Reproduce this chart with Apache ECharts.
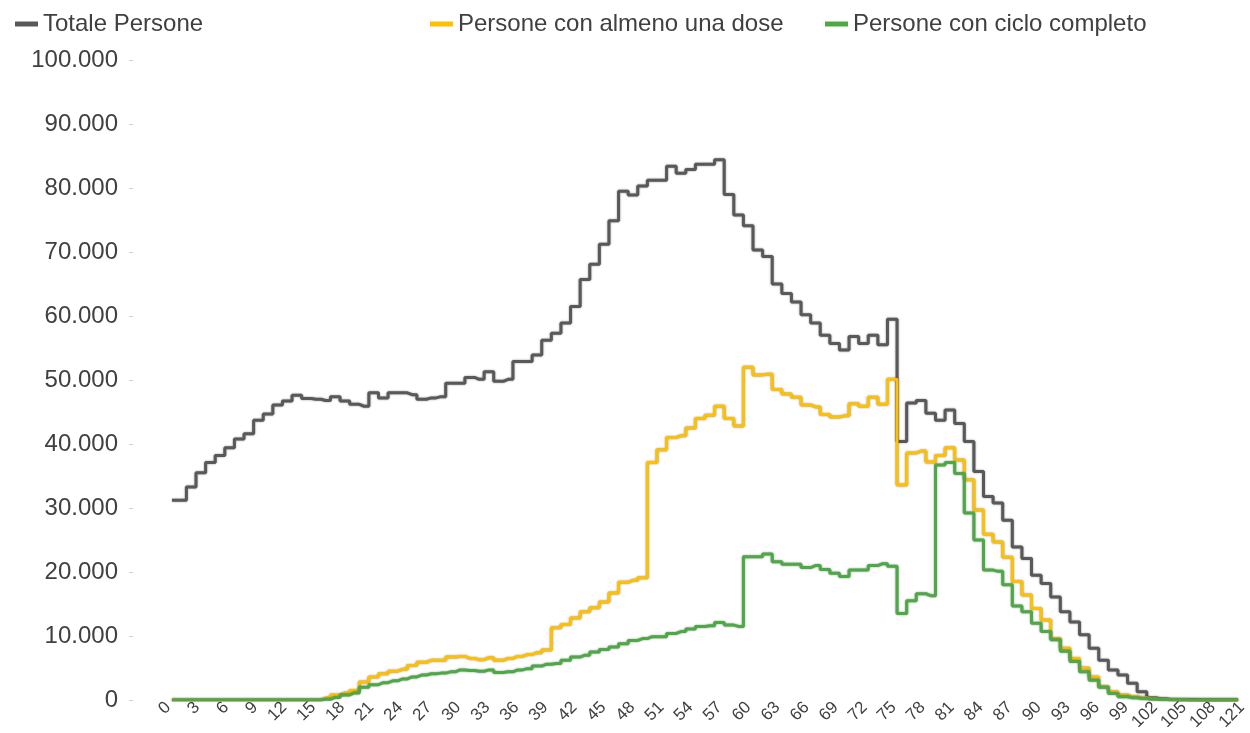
<!DOCTYPE html>
<html>
<head>
<meta charset="utf-8">
<script src="https://cdn.jsdelivr.net/npm/echarts@6/dist/echarts.min.js"></script>
<style>
html,body{margin:0;padding:0;background:#fff;}
#chart{width:1250px;height:733px;}
</style>
</head>
<body>
<div id="chart"></div>
<script>
// Age categories (0..110, then 121)
const ages = [];
for (let a = 0; a <= 110; a++) ages.push(String(a));
ages.push('121');

const seriesNames = ['Totale Persone', 'Persone con almeno una dose', 'Persone con ciclo completo'];

const totalePersone = [
31200,31200,33300,35500,37100,38200,39400,40800,41600,43700,
44700,46100,46700,47600,47100,47000,46800,47400,46700,46200,
45900,48000,47200,48000,48000,47700,47000,47200,47400,49500,
49500,50400,50100,51300,49800,50100,52900,52900,53900,56200,
57300,58900,61500,65700,68100,71200,74900,79500,78900,80300,
81200,81200,83400,82300,82900,83700,83700,84400,79000,75800,
74100,70300,69300,65000,63500,62200,60200,58900,57000,55700,
54700,56800,55700,57000,55500,59500,40400,46400,46800,44800,
43700,45300,43200,40400,35700,31800,30800,28100,23900,22100,
19500,18200,16100,13800,12200,10200,8100,6200,4700,3900,
2600,1300,300,150,80,40,20,10,5,3,
1,1
];

const almenoUnaDose = [
0,0,0,0,0,0,0,0,0,0,
0,0,0,0,0,0,300,800,1100,1500,
2800,3600,4100,4500,4800,5400,5900,6200,6200,6700,
6800,6500,6300,6600,6200,6500,6800,7100,7400,7800,
11300,11800,12800,13800,14400,15300,16700,18400,18700,19100,
37100,39100,41000,41300,42500,44000,44500,45900,44000,42800,
52000,50800,50900,48500,47800,47300,46100,45800,44600,44200,
44400,46300,45900,47300,46200,50100,33600,38600,38900,37200,
38200,39400,37500,34400,29700,25900,24700,22300,18500,16400,
14300,12500,9600,8100,6500,5000,3600,2100,1300,800,
500,350,200,100,50,30,15,8,4,2,
1,1
];

const cicloCompleto = [
0,0,0,0,0,0,0,0,0,0,
0,0,0,0,0,0,100,400,800,1100,
2000,2400,2700,3000,3300,3600,3900,4100,4200,4400,
4700,4600,4500,4700,4300,4400,4700,4900,5300,5600,
5700,6200,6700,7000,7500,7900,8300,8800,9300,9600,
9900,9900,10400,10700,11100,11500,11600,12100,11700,11500,
22400,22400,22800,21600,21200,21200,20700,21000,20400,19800,
19300,20300,20300,21000,21300,20900,13500,15500,16600,16300,
36700,37100,35400,29200,25000,20300,20100,18000,14700,13800,
12000,10700,9400,7600,6000,4400,3100,2000,1000,500,
350,250,150,80,40,20,10,5,3,2,
1,1
];

const yTicks = {min: 0, max: 100000, interval: 10000};
const colors = ['#595959', '#FFC000', '#4CAA45'];

function fmt(v) {
  return String(v).replace(/\B(?=(\d{3})+(?!\d))/g, '.');
}

const font = "'Liberation Sans', Arial, sans-serif";
const chart = echarts.init(document.getElementById('chart'), null, {renderer: 'canvas'});

function lineSeries(name, data, color) {
  return {
    name: name,
    type: 'line',
    step: 'middle',
    xAxisIndex: 0, yAxisIndex: 0,
    data: data,
    symbol: 'none',
    color: color,
    lineStyle: {width: 3, color: color, shadowColor: 'rgba(0,0,0,0.45)', shadowBlur: 2},
    emphasis: {disabled: true}
  };
}

function legendAt(left, name) {
  return {
    left: left, top: 7,
    data: [name],
    icon: 'rect', itemWidth: 23, itemHeight: 5,
    textStyle: {fontSize: 24, color: '#404040', fontFamily: font}
  };
}

chart.setOption({
  animation: false,
  backgroundColor: '#ffffff',
  textStyle: {fontFamily: font},
  legend: [
    legendAt(10, seriesNames[0]),
    legendAt(425, seriesNames[1]),
    legendAt(820, seriesNames[2])
  ],
  grid: [
    {left: 172, right: 12, top: 60, bottom: 33, containLabel: false},
    {left: 168, right: 7, top: 60, bottom: 33, containLabel: false}
  ],
  xAxis: [
    {
      type: 'category', gridIndex: 0,
      data: ages,
      boundaryGap: false,
      axisLine: {show: false},
      axisTick: {show: false},
      axisLabel: {show: false}
    },
    {
      type: 'category', gridIndex: 1,
      data: ages,
      boundaryGap: false,
      axisLine: {show: false},
      axisTick: {show: false},
      axisLabel: {interval: 2, rotate: 45, fontSize: 17, color: '#404040', margin: 12, fontFamily: font}
    }
  ],
  yAxis: [
    {
      type: 'value', gridIndex: 0,
      min: yTicks.min, max: yTicks.max, interval: yTicks.interval,
      offset: 39,
      axisLine: {show: false},
      axisTick: {show: true, length: 4, lineStyle: {color: '#d0d0d0'}},
      splitLine: {show: false},
      axisLabel: {fontSize: 24, color: '#404040', margin: 15, formatter: fmt, fontFamily: font}
    },
    {
      type: 'value', gridIndex: 1,
      min: yTicks.min, max: yTicks.max, interval: yTicks.interval,
      show: false
    }
  ],
  series: [
    lineSeries(seriesNames[0], totalePersone, colors[0]),
    lineSeries(seriesNames[1], almenoUnaDose, colors[1]),
    lineSeries(seriesNames[2], cicloCompleto, colors[2])
  ]
});
</script>
</body>
</html>
